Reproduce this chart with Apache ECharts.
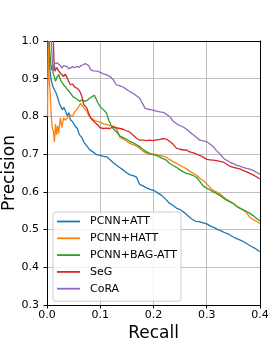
<!DOCTYPE html>
<html><head><meta charset="utf-8">
<script src="https://cdn.jsdelivr.net/npm/echarts@6/dist/echarts.min.js"></script>
<style>html,body{margin:0;padding:0;background:#fff}#c{width:275px;height:343px}</style>
</head><body><div id="c"></div>
<script>
const seriesNames = ['PCNN+ATT', 'PCNN+HATT', 'PCNN+BAG-ATT', 'SeG', 'CoRA'];
const xTicks = [0.0, 0.1, 0.2, 0.3, 0.4];
const yTicks = [0.3, 0.4, 0.5, 0.6, 0.7, 0.8, 0.9, 1.0];

const attRecall = [0.003,0.005,0.008,0.011,0.014,0.017,0.020,0.023,0.026,0.029,0.032,0.035,0.038,0.041,0.044,0.048,0.053,0.057,0.061,0.065,0.070,0.075,0.080,0.086,0.093,0.100,0.106,0.112,0.118,0.124,0.130,0.137,0.144,0.150,0.156,0.162,0.168,0.174,0.181,0.188,0.195,0.202,0.209,0.216,0.223,0.230,0.237,0.244,0.251,0.258,0.265,0.272,0.279,0.286,0.293,0.300,0.307,0.314,0.321,0.328,0.335,0.342,0.349,0.356,0.363,0.370,0.377,0.384,0.391,0.400];
const attPrecision = [1.000,0.930,0.895,0.880,0.870,0.862,0.850,0.835,0.826,0.818,0.824,0.827,0.802,0.810,0.791,0.786,0.774,0.768,0.751,0.745,0.730,0.721,0.712,0.706,0.699,0.697,0.694,0.693,0.686,0.678,0.671,0.664,0.657,0.650,0.645,0.643,0.639,0.620,0.615,0.610,0.606,0.603,0.596,0.590,0.580,0.570,0.564,0.556,0.552,0.545,0.536,0.528,0.522,0.521,0.518,0.515,0.509,0.505,0.500,0.496,0.491,0.487,0.481,0.476,0.472,0.467,0.461,0.455,0.450,0.441];

const hattRecall = [0.001,0.002,0.004,0.006,0.008,0.010,0.012,0.014,0.016,0.018,0.020,0.022,0.025,0.028,0.031,0.035,0.040,0.044,0.048,0.052,0.056,0.060,0.063,0.067,0.071,0.075,0.079,0.083,0.088,0.094,0.100,0.106,0.113,0.120,0.126,0.132,0.137,0.143,0.149,0.155,0.161,0.168,0.174,0.180,0.187,0.193,0.199,0.206,0.212,0.218,0.224,0.230,0.237,0.243,0.249,0.256,0.262,0.268,0.274,0.281,0.287,0.293,0.300,0.306,0.312,0.318,0.325,0.331,0.337,0.343,0.350,0.356,0.362,0.368,0.375,0.381,0.387,0.393,0.400];
const hattPrecision = [0.800,1.000,0.900,0.860,0.800,0.770,0.760,0.733,0.780,0.751,0.775,0.755,0.796,0.770,0.796,0.790,0.800,0.804,0.800,0.812,0.818,0.827,0.835,0.826,0.820,0.814,0.800,0.796,0.790,0.787,0.785,0.780,0.778,0.775,0.774,0.764,0.745,0.740,0.735,0.729,0.725,0.722,0.716,0.708,0.702,0.699,0.700,0.699,0.697,0.695,0.692,0.686,0.680,0.676,0.671,0.666,0.661,0.655,0.650,0.644,0.636,0.630,0.622,0.611,0.604,0.600,0.594,0.587,0.580,0.575,0.569,0.562,0.558,0.552,0.544,0.532,0.527,0.522,0.516];

const bagRecall = [0.004,0.006,0.008,0.010,0.012,0.014,0.016,0.019,0.022,0.025,0.028,0.031,0.035,0.039,0.044,0.049,0.053,0.057,0.061,0.066,0.071,0.076,0.080,0.085,0.089,0.092,0.096,0.100,0.104,0.108,0.112,0.116,0.120,0.124,0.130,0.137,0.143,0.149,0.155,0.162,0.168,0.174,0.180,0.187,0.193,0.199,0.206,0.212,0.218,0.224,0.230,0.237,0.243,0.249,0.256,0.262,0.268,0.274,0.281,0.287,0.293,0.300,0.306,0.312,0.318,0.325,0.331,0.337,0.343,0.350,0.356,0.362,0.368,0.375,0.381,0.387,0.393,0.400];
const bagPrecision = [1.000,0.960,0.923,0.935,0.911,0.905,0.893,0.905,0.911,0.898,0.890,0.884,0.878,0.870,0.862,0.852,0.849,0.845,0.840,0.844,0.840,0.843,0.848,0.853,0.856,0.855,0.835,0.826,0.820,0.815,0.808,0.790,0.778,0.768,0.760,0.748,0.744,0.740,0.734,0.730,0.725,0.720,0.713,0.706,0.702,0.699,0.696,0.692,0.688,0.684,0.676,0.670,0.665,0.659,0.653,0.649,0.647,0.644,0.638,0.628,0.616,0.610,0.605,0.600,0.596,0.590,0.584,0.578,0.574,0.569,0.562,0.556,0.553,0.548,0.543,0.537,0.530,0.523];

const segRecall = [0.012,0.013,0.015,0.018,0.021,0.025,0.028,0.031,0.034,0.037,0.040,0.044,0.048,0.052,0.056,0.060,0.063,0.066,0.069,0.072,0.075,0.078,0.082,0.086,0.090,0.095,0.100,0.106,0.112,0.118,0.124,0.130,0.137,0.143,0.149,0.155,0.162,0.168,0.174,0.180,0.187,0.193,0.199,0.206,0.212,0.218,0.224,0.230,0.237,0.243,0.249,0.256,0.262,0.268,0.274,0.281,0.287,0.293,0.300,0.306,0.312,0.318,0.325,0.331,0.337,0.343,0.350,0.356,0.362,0.368,0.375,0.381,0.387,0.393,0.400];
const segPrecision = [1.000,0.950,0.920,0.930,0.923,0.915,0.918,0.906,0.912,0.905,0.895,0.884,0.886,0.878,0.875,0.870,0.862,0.850,0.831,0.835,0.822,0.809,0.796,0.790,0.784,0.778,0.770,0.768,0.769,0.768,0.772,0.770,0.768,0.766,0.762,0.759,0.750,0.742,0.737,0.737,0.736,0.737,0.736,0.738,0.739,0.741,0.740,0.734,0.726,0.716,0.713,0.711,0.711,0.706,0.704,0.700,0.697,0.692,0.686,0.685,0.684,0.683,0.681,0.679,0.674,0.668,0.665,0.663,0.661,0.657,0.653,0.649,0.645,0.640,0.634];

const coraRecall = [0.008,0.010,0.012,0.014,0.016,0.019,0.022,0.025,0.028,0.031,0.034,0.038,0.041,0.044,0.048,0.052,0.056,0.060,0.064,0.068,0.072,0.075,0.078,0.082,0.087,0.094,0.100,0.106,0.112,0.118,0.124,0.130,0.137,0.143,0.149,0.155,0.162,0.168,0.174,0.178,0.184,0.190,0.199,0.206,0.212,0.218,0.224,0.231,0.237,0.243,0.249,0.256,0.262,0.268,0.274,0.281,0.287,0.293,0.300,0.306,0.312,0.318,0.325,0.331,0.337,0.343,0.350,0.356,0.362,0.368,0.375,0.381,0.387,0.393,0.400];
const coraPrecision = [1.000,0.950,0.920,0.940,0.937,0.942,0.946,0.935,0.928,0.935,0.930,0.932,0.926,0.928,0.932,0.929,0.933,0.930,0.935,0.937,0.940,0.943,0.935,0.924,0.921,0.920,0.917,0.913,0.910,0.906,0.898,0.884,0.881,0.878,0.872,0.866,0.861,0.855,0.848,0.838,0.822,0.819,0.817,0.814,0.812,0.811,0.806,0.799,0.787,0.781,0.776,0.772,0.766,0.759,0.752,0.744,0.737,0.735,0.733,0.727,0.720,0.710,0.700,0.690,0.684,0.679,0.675,0.671,0.668,0.665,0.662,0.660,0.657,0.652,0.647];

const colors = ['#1f77b4', '#ff7f0e', '#2ca02c', '#d62728', '#9467bd'];
const recalls = [attRecall, hattRecall, bagRecall, segRecall, coraRecall];
const precisions = [attPrecision, hattPrecision, bagPrecision, segPrecision, coraPrecision];

const FONT = 'DejaVu Sans';
const chart = echarts.init(document.getElementById('c'), null, {renderer: 'canvas'});

const series = seriesNames.map((name, i) => ({
  name: name,
  type: 'line',
  symbol: 'none',
  showSymbol: false,
  clip: true,
  color: colors[i],
  lineStyle: {color: colors[i], width: 1.3},
  data: recalls[i].map((r, k) => [r, precisions[i][k]]),
  z: 2 + i
}));

const fmt = v => v.toFixed(1);

chart.setOption({
  animation: false,
  backgroundColor: '#fff',
  grid: {left: 47, right: 15, top: 41, bottom: 38, containLabel: false, outerBoundsMode: 'none'},
  legend: {
    orient: 'vertical', left: 53, top: 212,
    padding: [4, 4, 7, 4],
    icon: 'rect',
    itemWidth: 23, itemHeight: 1.8, itemGap: 5.8,
    borderColor: '#cccccc', borderWidth: 1, borderRadius: 3,
    backgroundColor: 'rgba(255,255,255,0.8)',
    textStyle: {fontSize: 11, fontFamily: FONT, color: '#000', padding: [0, 0, 0, 5]},
    data: seriesNames
  },
  xAxis: [{
    type: 'value', min: xTicks[0], max: xTicks[xTicks.length - 1], interval: 0.1,
    name: 'Recall', nameLocation: 'middle', nameGap: 20, nameMoveOverlap: false,
    nameTextStyle: {fontSize: 17, fontFamily: FONT, color: '#000'},
    axisLine: {show: true, onZero: false, lineStyle: {color: '#000', width: 1}},
    axisTick: {show: true, length: 3.5, lineStyle: {color: '#000', width: 1}},
    axisLabel: {fontSize: 11, fontFamily: FONT, color: '#000', margin: 5, formatter: fmt},
    splitLine: {show: true, showMinLine: false, showMaxLine: false, lineStyle: {color: '#b0b0b0', width: 0.8}}
  }, {
    type: 'value', position: 'top', min: xTicks[0], max: xTicks[xTicks.length - 1], interval: 0.1,
    axisLine: {show: true, onZero: false, lineStyle: {color: '#000', width: 1}},
    axisTick: {show: false}, axisLabel: {show: false}, splitLine: {show: false}
  }],
  yAxis: [{
    type: 'value', min: yTicks[0], max: yTicks[yTicks.length - 1], interval: 0.1,
    name: 'Precision', nameLocation: 'middle', nameGap: 29, nameRotate: 90, nameMoveOverlap: false,
    nameTextStyle: {fontSize: 17, fontFamily: FONT, color: '#000'},
    axisLine: {show: true, onZero: false, lineStyle: {color: '#000', width: 1}},
    axisTick: {show: true, length: 3.5, lineStyle: {color: '#000', width: 1}},
    axisLabel: {fontSize: 11, fontFamily: FONT, color: '#000', margin: 8, formatter: fmt},
    splitLine: {show: true, showMinLine: false, showMaxLine: false, lineStyle: {color: '#b0b0b0', width: 0.8}}
  }, {
    type: 'value', position: 'right', min: yTicks[0], max: yTicks[yTicks.length - 1], interval: 0.1,
    axisLine: {show: true, onZero: false, lineStyle: {color: '#000', width: 1}},
    axisTick: {show: false}, axisLabel: {show: false}, splitLine: {show: false}
  }],
  series: series
});
</script>
</body></html>
